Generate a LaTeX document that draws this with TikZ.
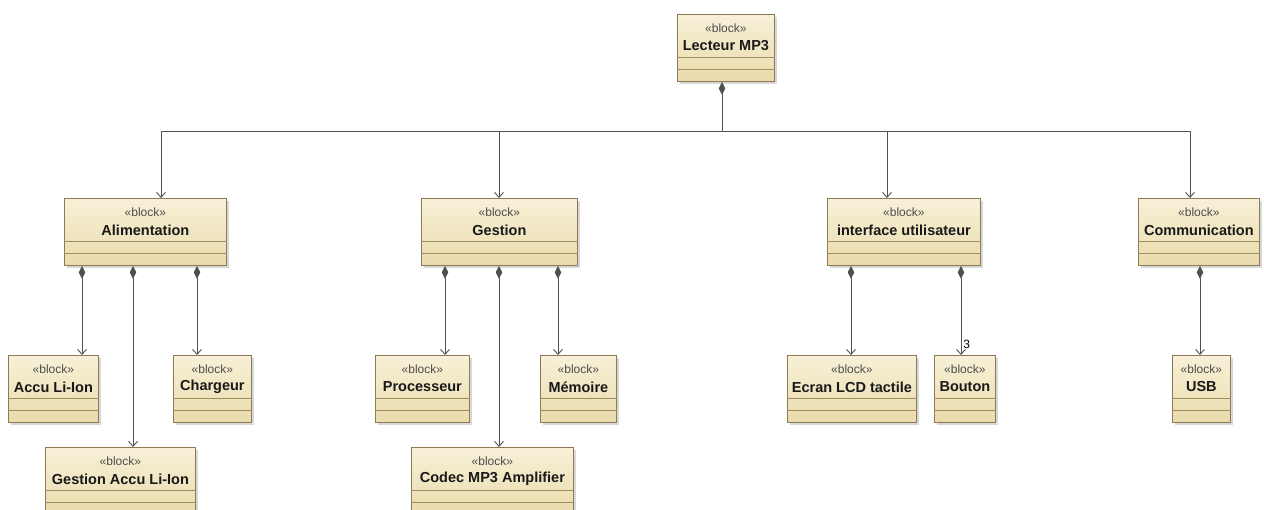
\documentclass[tikz,border=0pt]{standalone}
\usepackage{fontspec}
\setmainfont{Liberation Sans}
\usepackage{tikz}
\usetikzlibrary{arrows.meta, positioning, calc, shadows}
\usepackage{xcolor}
\definecolor{blocktop}{RGB}{248,241,216}
\definecolor{blockbottom}{RGB}{233,219,172}
\definecolor{blockedge}{RGB}{140,122,84}
\definecolor{compline}{RGB}{160,140,95}
\definecolor{wire}{RGB}{80,80,80}

% one SysML block: id, left x, top y, width, name
\newcommand{\sysblock}[5]{%
  \node[blockbox, minimum width=#4pt, anchor=north west] (#1) at (#2,#3) {};
  \node[stereo] at ($(#1.north)+(0,14)$) {«block»};
  \node[blockname] at ($(#1.north)+(0,32)$) {#5};
  \draw[complinestyle] ($(#1.north west)+(0,43)$) -- ($(#1.north east)+(0,43)$);
  \draw[complinestyle] ($(#1.north west)+(0,55)$) -- ($(#1.north east)+(0,55)$);
}

\begin{document}
\begin{tikzpicture}[x=1pt, y=-1pt,
    blockbox/.style={draw=blockedge, line width=0.8pt, top color=blocktop, bottom color=blockbottom,
      minimum height=67pt, inner sep=0pt,
      drop shadow={shadow xshift=2.5pt, shadow yshift=-2.5pt, fill=black!30, opacity=0.5}},
    stereo/.style={font=\fontsize{12}{12}\selectfont, text=black!70, inner sep=0pt},
    blockname/.style={font=\fontsize{14.5}{14.5}\selectfont\bfseries, text=black!90, inner sep=0pt},
    complinestyle/.style={draw=compline, line width=0.8pt},
    wireline/.style={draw=wire, line width=0.9pt},
    tree/.style={wireline, -{Straight Barb[length=5pt, width=9pt]}},
    comp/.style={wireline, {Diamond[length=13pt, width=6.5pt, fill=wire]}-{Straight Barb[length=5pt, width=9pt]}},
    mult/.style={font=\fontsize{12}{12}\selectfont, inner sep=1pt}]
  \useasboundingbox (0,0) rectangle (1264,510);
  \clip (0,0) rectangle (1264,510);

  % top level
  \sysblock{lect}{677}{14}{97}{Lecteur MP3}

  % subsystems
  \sysblock{alim}{64}{198}{162}{Alimentation}
  \sysblock{gest}{421}{198}{156}{Gestion}
  \sysblock{iface}{827}{198}{153}{interface utilisateur}
  \sysblock{comm}{1138}{198}{121}{Communication}

  % parts
  \sysblock{accu}{8}{355}{90}{Accu Li-Ion}
  \sysblock{charg}{173}{355}{78}{Chargeur}
  \sysblock{gaccu}{45}{447}{150}{Gestion Accu Li-Ion}
  \sysblock{proc}{375}{355}{94}{Processeur}
  \sysblock{mem}{540}{355}{76}{Mémoire}
  \sysblock{codec}{411}{447}{162}{Codec MP3 Amplifier}
  \sysblock{ecran}{787}{355}{129}{Ecran LCD tactile}
  \sysblock{bouton}{934}{355}{61}{Bouton}
  \sysblock{usb}{1172}{355}{58}{USB}

  % composition tree from Lecteur MP3
  \coordinate (hub) at (722,131);
  \draw[wireline, {Diamond[length=13pt, width=6.5pt, fill=wire]}-] (lect.south -| hub) -- (hub);
  \draw[tree] (hub) -| (alim.north -| 161,0);
  \draw[tree] (hub) -| (gest.north -| 499,0);
  \draw[tree] (hub) -| (iface.north -| 887,0);
  \draw[tree] (hub) -| (comm.north -| 1190,0);

  % parts of each subsystem
  \draw[comp] (alim.south -| 82,0) -- (accu.north -| 82,0);
  \draw[comp] (alim.south -| 133,0) -- (gaccu.north -| 133,0);
  \draw[comp] (alim.south -| 197,0) -- (charg.north -| 197,0);
  \draw[comp] (gest.south -| 445,0) -- (proc.north -| 445,0);
  \draw[comp] (gest.south -| 499,0) -- (codec.north -| 499,0);
  \draw[comp] (gest.south -| 558,0) -- (mem.north -| 558,0);
  \draw[comp] (iface.south -| 851,0) -- (ecran.north -| 851,0);
  \draw[comp] (iface.south -| 961,0) -- (bouton.north -| 961,0)
    node[mult, pos=1, anchor=south west, xshift=1pt, yshift=5pt] (boutonMult) {3};
  \draw[comp] (comm.south -| 1200,0) -- (usb.north -| 1200,0);
\end{tikzpicture}
\end{document}
